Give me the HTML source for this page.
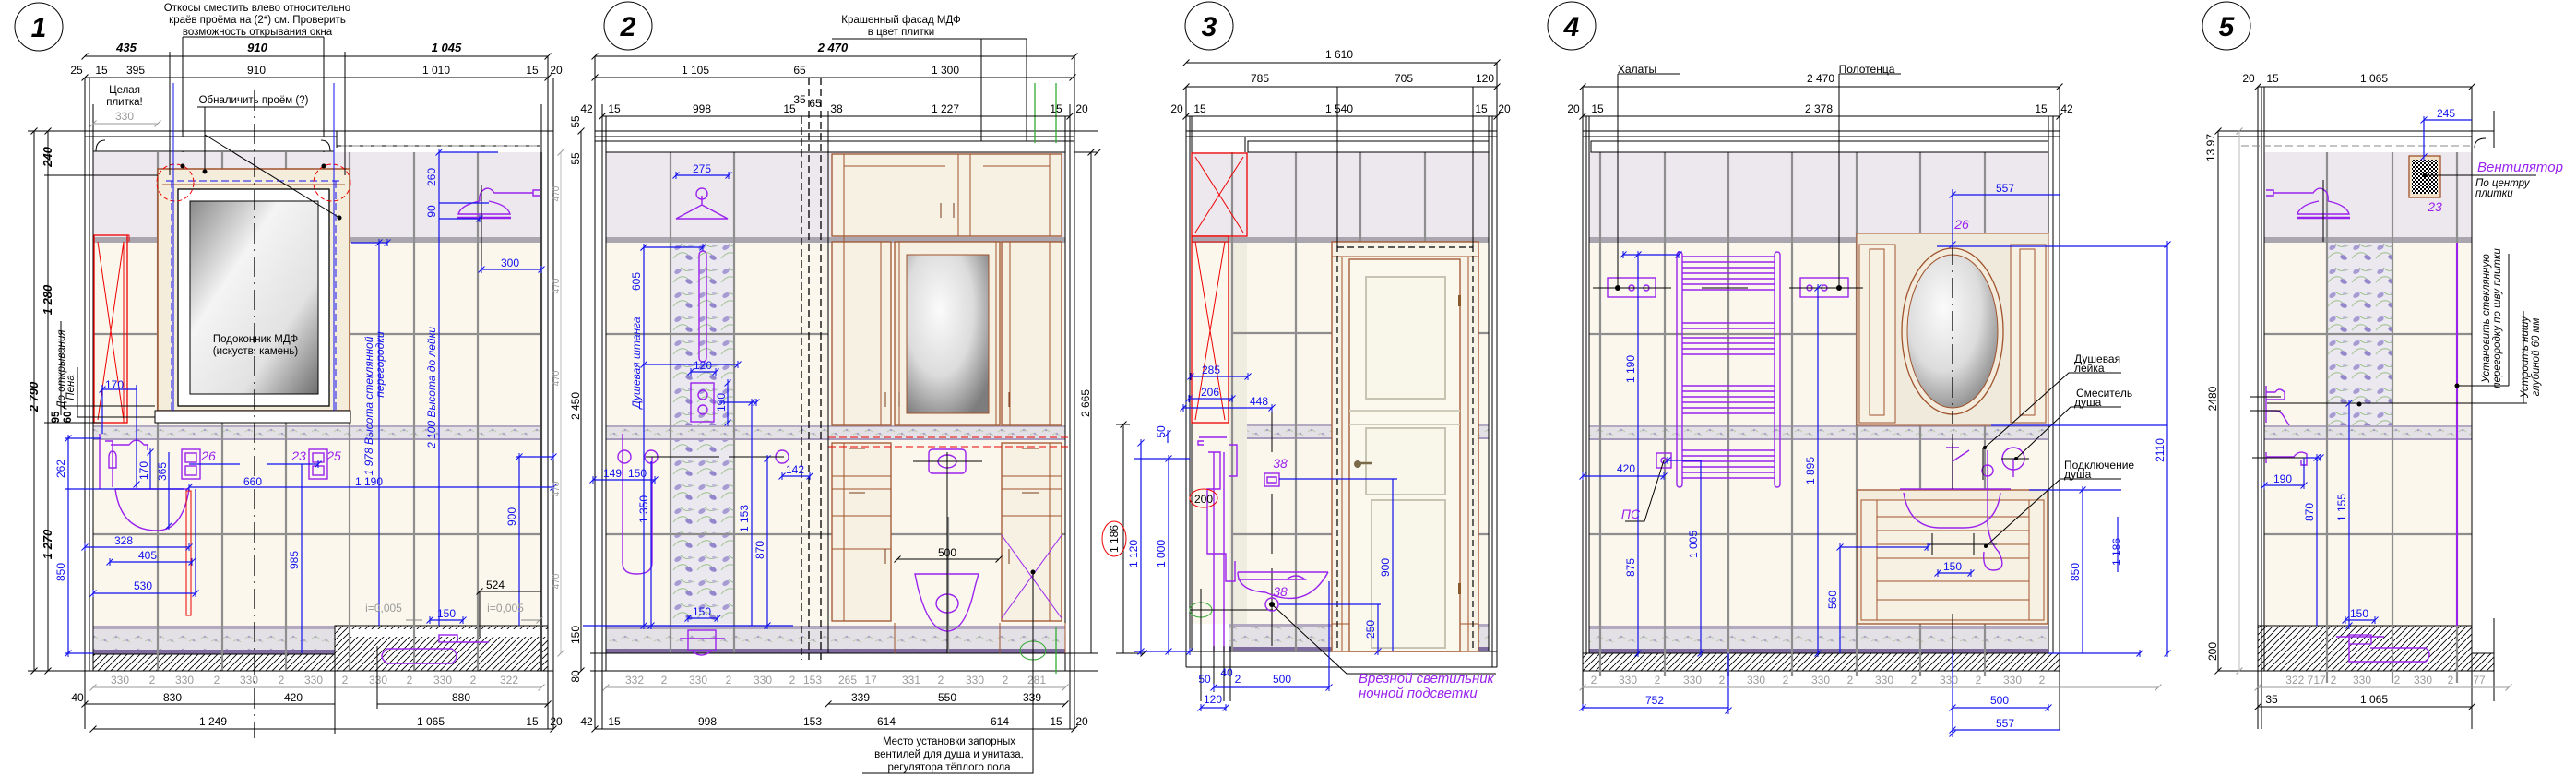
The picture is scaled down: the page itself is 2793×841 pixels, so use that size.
<!DOCTYPE html>
<html><head><meta charset="utf-8"><style>
html,body{margin:0;padding:0;background:#fff}
svg{display:block}
text{font-family:"Liberation Sans","DejaVu Sans",sans-serif}
.d{font-size:12px;fill:#000;text-anchor:middle}
.bi{font-size:13px;font-weight:bold;font-style:italic;text-anchor:middle}
.g{font-size:12px;fill:#9a9a9a;text-anchor:middle}
.b{font-size:12px;fill:#1010ee;text-anchor:middle}
.p{font-size:14px;fill:#9a22ee;font-style:italic}
.n{font-size:11.5px;fill:#000;text-anchor:middle}
.ln{stroke:#000;stroke-width:1;fill:none}
.gl{stroke:#8e8e8e;stroke-width:2.2;fill:none}
.bl{stroke:#1010ee;stroke-width:1.2;fill:none}
.pl{stroke:#9a22ee;stroke-width:1.4;fill:none}
.br{stroke:#a0522d;stroke-width:1.3}
</style></head><body>
<svg width="2793" height="841" viewBox="0 0 2793 841" xmlns="http://www.w3.org/2000/svg">
<defs>
<marker id="tk" markerWidth="10" markerHeight="10" refX="0" refY="0" viewBox="-5 -5 10 10" markerUnits="userSpaceOnUse"><path d="M-3.5,3.5 L3.5,-3.5" stroke="#000" stroke-width="1"/></marker>
<marker id="tb" markerWidth="10" markerHeight="10" refX="0" refY="0" viewBox="-5 -5 10 10" markerUnits="userSpaceOnUse"><path d="M-3.5,3.5 L3.5,-3.5 M0,-4 L0,4" stroke="#1010ee" stroke-width="1"/></marker>
<marker id="tg" markerWidth="10" markerHeight="10" refX="0" refY="0" viewBox="-5 -5 10 10" markerUnits="userSpaceOnUse"><path d="M-3.5,3.5 L3.5,-3.5" stroke="#999" stroke-width="1"/></marker>
<pattern id="hat" width="7" height="7" patternUnits="userSpaceOnUse"><rect width="7" height="7" fill="#fff"/><path d="M-1,8 L8,-1" stroke="#000" stroke-width="0.9"/></pattern>
<pattern id="spk" width="24" height="14" patternUnits="userSpaceOnUse"><rect width="24" height="14" fill="#e4e1e6"/><path d="M2,6 q4,-4 8,0 M13,9 q4,-3 8,1" stroke="#b8c8a8" stroke-width="1" fill="none"/><circle cx="6" cy="4" r="1.3" fill="#b0a6cc"/><circle cx="18" cy="8" r="1.3" fill="#b0a6cc"/></pattern>
<pattern id="flo" width="26" height="26" patternUnits="userSpaceOnUse"><rect width="26" height="26" fill="#ebe8ef"/><path d="M2,20 q8,-10 16,-4 M10,4 q6,6 14,2" stroke="#9cc08c" stroke-width="0.9" fill="none"/><ellipse cx="7" cy="8" rx="4" ry="2.5" fill="#a79bd4" transform="rotate(-30 7 8)"/><ellipse cx="19" cy="19" rx="4" ry="2.5" fill="#9388cc" transform="rotate(25 19 19)"/><ellipse cx="20" cy="6" rx="2" ry="1.3" fill="#c0b6e0"/></pattern>
<pattern id="chk" width="4" height="4" patternUnits="userSpaceOnUse"><rect width="4" height="4" fill="#fff"/><rect width="2" height="2" fill="#000"/><rect x="2" y="2" width="2" height="2" fill="#000"/></pattern>
<radialGradient id="gls" cx="0.4" cy="0.35" r="0.75"><stop offset="0" stop-color="#fbfbfb"/><stop offset="0.55" stop-color="#dcdcdc"/><stop offset="1" stop-color="#7d7d7d"/></radialGradient>
<linearGradient id="gls2" x1="0" y1="0" x2="1" y2="1"><stop offset="0" stop-color="#8a8a8a"/><stop offset="0.35" stop-color="#f4f4f4"/><stop offset="0.7" stop-color="#e2e2e2"/><stop offset="1" stop-color="#6e6e6e"/></linearGradient>
</defs>
<rect width="2793" height="841" fill="#fff"/>

<!-- ================= ELEVATION 1 ================= -->
<ellipse cx="42" cy="29" rx="26" ry="26" fill="none" stroke="#000"/>
<text x="42" y="40" style="font-size:30px;font-weight:bold;font-style:italic" text-anchor="middle">1</text>
<text x="279" y="12" class="n">Откосы сместить влево относительно</text>
<text x="279" y="25" class="n">краёв проёма на (2*) см. Проверить</text>
<text x="279" y="38" class="n">возможность открывания окна</text>
<path class="ln" d="M198,40 H351 M198,40 V180 M351,40 V180"/>
<!-- wall fills -->
<rect x="101" y="165" width="486" height="92" fill="#ede7ee"/>
<rect x="101" y="257" width="486" height="6" fill="#aaa6b0"/>
<rect x="101" y="263" width="486" height="198" fill="#fbf7ec"/>
<rect x="101" y="461" width="486" height="16" fill="url(#spk)"/>
<rect x="101" y="461" width="486" height="2" fill="#b3a9c0"/><rect x="101" y="475" width="486" height="2" fill="#a89cbc"/>
<rect x="101" y="477" width="486" height="201" fill="#fbf7ec"/>
<rect x="101" y="678" width="262" height="31" fill="url(#spk)"/>
<rect x="101" y="678" width="262" height="4" fill="#b3a9c0"/><rect x="101" y="704" width="262" height="5" fill="#7e6c9e"/>
<rect x="101" y="709" width="262" height="18" fill="url(#hat)" stroke="#000"/>
<rect x="363" y="678" width="231" height="49" fill="url(#hat)" stroke="#000"/>
<rect x="380" y="682" width="214" height="8" fill="#fff"/>
<path class="gl" d="M101,362 H587 M101,579 H587 M171,165 V727 M241,165 V727 M310,165 V727 M379,165 V727 M449,165 V727 M518,165 V727 M587,165 V727"/>
<!-- wall outlines -->
<path class="ln" d="M92,84 V790 M97,84 V727 M101,113 V727 M587,113 V727 M594,61 V790 M600,84 V790 M92,142 H600 M92,148 H365 M365,142 V160 M365,158 H587"/>
<path d="M101,148 H362 V164 H101Z" fill="#fff" stroke="#000"/>
<path class="ln" d="M104,164 q0,-12 10,-12 M358,164 q0,-12 -10,-12"/>
<path d="M370,158 H587" stroke="#888" stroke-dasharray="8 4"/>
<path class="ln" d="M88,727 H600"/>
<!-- window -->
<rect x="171" y="183" width="208" height="262" fill="#f4eddc" stroke="#a0522d" stroke-width="1.5"/>
<path d="M176,200 H374" stroke="#a0522d"/>
<path d="M180,196 H370" stroke="#1010ee" stroke-dasharray="8 4"/>
<path d="M186,196 V445 M364,196 V445" stroke="#1010ee" stroke-dasharray="8 4"/>
<rect x="193" y="205" width="164" height="235" fill="#fff" stroke="#000" stroke-width="1.3"/>
<rect x="206" y="218" width="139" height="209" fill="url(#gls2)" stroke="#000"/>
<rect x="168" y="445" width="212" height="13" fill="#fff" stroke="#000"/>
<circle cx="190" cy="198" r="20" fill="none" stroke="#e00" stroke-dasharray="5 3"/>
<circle cx="360" cy="198" r="20" fill="none" stroke="#e00" stroke-dasharray="5 3"/>
<path d="M276,98 V800" stroke="#000" stroke-width="1.3" stroke-dasharray="22 6 2 6"/>
<text x="277" y="371" class="n">Подоконник МДФ</text>
<text x="277" y="384" class="n">(искуств. камень)</text>
<text x="275" y="112" class="n">Обналичить проём (?)</text>
<path class="ln" d="M214,116 H330 M222,116 V186 M222,146 L368,236"/>
<circle cx="198" cy="180" r="2.5"/><circle cx="351" cy="180" r="2.5"/><circle cx="222" cy="186" r="2.5"/><circle cx="368" cy="236" r="2.5"/>
<text x="135" y="101" class="n">Целая</text><text x="135" y="114" class="n">плитка!</text>
<text x="135" y="130" class="g">330</text><path d="M101,134 H171" stroke="#999" marker-start="url(#tg)" marker-end="url(#tg)"/>
<!-- red cabinet -->
<rect x="102" y="255" width="36" height="203" fill="none" stroke="#e00" stroke-width="1.3"/>
<path d="M102,255 H140 V262 M106,262 L134,455 M134,262 L106,455 M134,262 V458" stroke="#e00" fill="none"/>
<!-- sink -->
<path class="pl" d="M108,470 V530 M114,478 h8 v50 M118,495 c0,-8 8,-8 8,0 v12 h-8z M120,482 h20 q8,-10 16,0 h4 v6 M125,530 H205 M125,530 q6,45 45,45 q28,0 35,-45"/>
<rect x="202" y="532" width="5" height="135" fill="none" stroke="#e00"/>
<rect x="197" y="487" width="20" height="32" class="pl" fill="#fff"/><rect x="201" y="491" width="12" height="10" class="pl"/><rect x="201" y="505" width="12" height="10" class="pl"/>
<rect x="335" y="487" width="20" height="32" class="pl" fill="#fff"/><rect x="339" y="491" width="12" height="10" class="pl"/><rect x="339" y="505" width="12" height="10" class="pl"/>
<text x="226" y="499" class="p" text-anchor="middle">26</text>
<text x="324" y="499" class="p" text-anchor="middle">23</text>
<text x="362" y="499" class="p" text-anchor="middle">25</text>
<!-- shower head -->
<path class="pl" d="M586,212 h-8 v-6 h8 M578,209 H536 q-6,-8 -12,-3 q-5,3 -4,12 M520,218 q-20,4 -23,14 H553 q-3,-10 -23,-14"/>
<path d="M496,236 H554" stroke="#9a22ee" stroke-width="2.5"/>
<path class="ln" d="M522,200 V295"/>
<!-- blue dims elev1 -->
<path class="bl" d="M111,422 H148 M111,417 V470 M148,417 V525" marker-start="url(#tb)" marker-end="url(#tb)"/>
<text x="124" y="421" class="b">170</text>
<path class="bl" d="M74,475 V708" marker-start="url(#tb)" marker-mid="url(#tb)" marker-end="url(#tb)"/>
<path class="bl" d="M70,475 H110 M70,530 H200 M70,708 H101"/>
<text transform="translate(70,508) rotate(-90)" class="b">262</text>
<text transform="translate(70,620) rotate(-90)" class="b">850</text>
<path class="bl" d="M163,490 V530 M183,490 V570" marker-start="url(#tb)" marker-end="url(#tb)"/>
<text transform="translate(160,510) rotate(-90)" class="b">170</text>
<text transform="translate(180,511) rotate(-90)" class="b">365</text>
<path class="bl" d="M92,593 H205" marker-start="url(#tb)" marker-end="url(#tb)"/><text x="134" y="590" class="b">328</text>
<path class="bl" d="M119,609 H208" marker-start="url(#tb)" marker-end="url(#tb)"/><text x="160" y="606" class="b">405</text>
<path class="bl" d="M101,643 H212 M212,530 V643" marker-start="url(#tb)" marker-end="url(#tb)"/><text x="155" y="639" class="b">530</text>
<path class="bl" d="M205,528 H600" marker-start="url(#tb)" marker-mid="url(#tb)" marker-end="url(#tb)"/>
<text x="274" y="526" class="b">660</text><text x="400" y="526" class="b">1 190</text>
<path class="bl" d="M327,503 V708 M205,503 H260 M290,503 H345" marker-end="url(#tb)"/>
<text transform="translate(323,607) rotate(-90)" class="b">985</text>
<path class="bl" d="M411,263 V678 M381,263 H420" marker-start="url(#tb)" marker-end="url(#tb)"/>
<text transform="translate(404,440) rotate(-90)" class="b" style="font-style:italic">1 978   Высота стеклянной</text>
<text transform="translate(416,395) rotate(-90)" class="b" style="font-style:italic">перегородки</text>
<path class="bl" d="M476,165 V678 M476,165 H540 M476,220 H530 M476,237 H520" marker-start="url(#tb)" marker-end="url(#tb)"/>
<text transform="translate(472,420) rotate(-90)" class="b" style="font-style:italic">2 100   Высота до лейки</text>
<text transform="translate(472,192) rotate(-90)" class="b">260</text>
<text transform="translate(472,229) rotate(-90)" class="b">90</text>
<path class="bl" d="M522,292 H587" marker-start="url(#tb)" marker-end="url(#tb)"/><text x="553" y="289" class="b">300</text>
<path class="bl" d="M563,495 V678 M560,495 H600" marker-start="url(#tb)" marker-end="url(#tb)"/>
<text transform="translate(559,560) rotate(-90)" class="b">900</text>
<path class="ln" d="M520,641 H587 M520,641 V690" marker-start="url(#tk)"/><text x="537" y="638" class="d">524</text>
<path class="bl" d="M466,672 H502" marker-start="url(#tb)" marker-end="url(#tb)"/><text x="484" y="669" class="b">150</text>
<rect x="476" y="688" width="20" height="8" class="pl"/>
<path class="pl" d="M420,703 q-12,8 0,16 H490 q10,-8 0,-16Z M496,696 H530"/>
<text x="416" y="663" class="g" text-anchor="start">i=0,005</text><text x="548" y="663" class="g" text-anchor="start">i=0,005</text>
<path d="M440,672 H458 M565,672 H585" stroke="#888" marker-end="url(#tg)"/>
<!-- left black dims -->
<path class="ln" d="M37,142 V727" marker-start="url(#tk)" marker-end="url(#tk)"/>
<path class="ln" d="M52,142 V727" marker-start="url(#tk)" marker-mid="url(#tk)" marker-end="url(#tk)"/>
<path class="ln" d="M30,142 H101 M30,727 H101 M48,190 H171 M48,458 H110"/>
<text transform="translate(41,430) rotate(-90)" class="bi">2 790</text>
<text transform="translate(56,170) rotate(-90)" class="bi">240</text>
<text transform="translate(56,325) rotate(-90)" class="bi">1 280</text>
<text transform="translate(56,590) rotate(-90)" class="bi">1 270</text>
<text transform="translate(70,400) rotate(-90)" class="n" style="font-style:italic">До открывания</text>
<text transform="translate(80,420) rotate(-90)" class="n" style="font-style:italic">Пена</text>
<text transform="translate(64,452) rotate(-90)" class="n" style="font-weight:bold">95</text>
<text transform="translate(77,452) rotate(-90)" class="n" style="font-weight:bold">60</text>
<path class="ln" d="M66,348 V450 M84,398 V452 M66,440 H168 M84,452 H168"/>
<!-- top dims -->
<path class="ln" d="M92,61 H594" marker-start="url(#tk)" marker-mid="url(#tk)" marker-end="url(#tk)"/>
<path class="ln" d="M92,61 H184 M184,61 H374 M374,61 H594"/>
<text x="137" y="56" class="bi">435</text><text x="279" y="56" class="bi">910</text><text x="484" y="56" class="bi">1 045</text>
<path class="ln" d="M92,84 H97 M97,84 H102 M102,84 H184 M184,84 H374 M374,84 H587 M587,84 H594" marker-start="url(#tk)" marker-end="url(#tk)"/>
<path class="ln" d="M184,56 V190 M374,56 V190"/>
<text x="83" y="80" class="d">25</text><text x="110" y="80" class="d">15</text><text x="147" y="80" class="d">395</text><text x="278" y="80" class="d">910</text><text x="473" y="80" class="d">1 010</text><text x="577" y="80" class="d">15</text><text x="603" y="80" class="d">20</text>
<path d="M188,90 V445 M362,90 V445" stroke="#1010ee"/>
<!-- bottom dims -->
<path d="M101,745 H171 M171,745 H241 M241,745 H310 M310,745 H379 M379,745 H449 M449,745 H518 M518,745 H587" stroke="#999" marker-start="url(#tg)" marker-end="url(#tg)"/>
<g class="g"><text x="130" y="741">330</text><text x="165" y="741">2</text><text x="200" y="741">330</text><text x="235" y="741">2</text><text x="270" y="741">330</text><text x="305" y="741">2</text><text x="340" y="741">330</text><text x="374" y="741">2</text><text x="410" y="741">330</text><text x="444" y="741">2</text><text x="480" y="741">330</text><text x="513" y="741">2</text><text x="552" y="741">322</text></g>
<path class="ln" d="M92,763 H101 M101,763 H276 M276,763 H363 M409,763 H594" marker-start="url(#tk)" marker-end="url(#tk)"/>
<path class="ln" d="M409,700 V768"/>
<text x="84" y="760" class="d">40</text><text x="187" y="760" class="d">830</text><text x="318" y="760" class="d">420</text><text x="500" y="760" class="d">880</text>
<path class="ln" d="M101,790 H363 M363,790 H587 M587,790 H594 M594,790 H600" marker-start="url(#tk)" marker-end="url(#tk)"/>
<path class="ln" d="M363,727 V795"/>
<text x="231" y="786" class="d">1 249</text><text x="467" y="786" class="d">1 065</text><text x="577" y="786" class="d">15</text><text x="603" y="786" class="d">20</text>

<!-- ================= ELEVATION 2 ================= -->
<ellipse cx="681" cy="28" rx="26" ry="26" fill="none" stroke="#000"/>
<text x="681" y="39" style="font-size:30px;font-weight:bold;font-style:italic" text-anchor="middle">2</text>
<text x="977" y="25" class="n">Крашенный фасад МДФ</text><text x="977" y="38" class="n">в цвет плитки</text>
<path class="ln" d="M902,42 H1113 M1064,42 V200 M1113,42 V300"/>
<circle cx="1064" cy="200" r="2.5"/><circle cx="1113" cy="300" r="2.5"/>
<rect x="657" y="165" width="498" height="92" fill="#ede7ee"/>
<rect x="657" y="257" width="498" height="6" fill="#aaa6b0"/>
<rect x="657" y="263" width="498" height="415" fill="#fbf7ec"/>
<rect x="727" y="263" width="69" height="413" fill="url(#flo)"/>
<rect x="657" y="461" width="498" height="16" fill="url(#spk)"/>
<rect x="657" y="461" width="498" height="2" fill="#b3a9c0"/><rect x="657" y="475" width="498" height="2" fill="#a89cbc"/>
<rect x="657" y="678" width="498" height="30" fill="url(#spk)"/>
<rect x="657" y="678" width="498" height="4" fill="#b3a9c0"/><rect x="657" y="703" width="498" height="5" fill="#7e6c9e"/>
<path class="gl" d="M657,362 H898 M657,579 H1155 M727,165 V708 M796,165 V708 M1028,560 V708"/>
<path class="ln" d="M645,61 V790 M653,113 V790 M657,126 V727 M1155,126 V727 M1160,113 V790 M1165,61 V790 M645,142 H1190 M645,148 H1165 M645,153 H1165 M640,708 H1190 M640,727 H1190"/>
<path d="M657,153 H1155 V165 H657Z" fill="#fff" stroke="#000"/>
<path d="M869,126 V715 M877,84 V715 M890,84 V715" stroke="#000" stroke-width="1.3" stroke-dasharray="8 4"/>
<!-- cabinet -->
<g fill="#f6f1e2" stroke="#a0522d" stroke-width="1.3">
<rect x="902" y="167" width="249" height="89"/>
<rect x="902" y="262" width="64" height="199"/><rect x="970" y="262" width="114" height="199"/><rect x="1086" y="262" width="65" height="199"/>
<rect x="902" y="480" width="64" height="193"/><rect x="1086" y="480" width="65" height="193"/>
</g>
<g fill="none" stroke="#a0522d">
<path d="M915,167 V256 M1138,167 V256 M915,180 H1025 M1039,167 V256 M1052,167 V256 M1066,180 H1138 M915,256 V461 M955,262 V461 M1138,262 V461 M1095,262 V461 M975,262 V461 M1080,262 V461 M915,480 V673 M1138,480 V673 M902,516 H966 M902,530 H966 M902,559 H966 M1086,516 H1151 M1086,530 H1151 M1086,559 H1151 M902,595 H966 M898,675 V708 M1155,675 V708 M970,675 V708 M1084,675 V708"/>
</g>
<rect x="983" y="276" width="89" height="172" fill="url(#gls)" stroke="#a0522d"/>
<g fill="none" stroke="#7a3a1a"><path d="M1020,220 v16 M1034,220 v16 M960,425 v16 M975,425 v16 M1094,425 v16 M960,595 v16 M1094,595 v16 M920,486 h18 M1108,486 h18 M920,534 h18 M1108,534 h18"/></g>
<path d="M898,474 H1160 M898,484 H1160" stroke="#e00" stroke-dasharray="8 4"/>
<path d="M1086,580 L1151,670 M1151,580 L1086,670" stroke="#9a22ee"/>
<rect x="1007" y="487" width="40" height="26" rx="4" class="pl"/><ellipse cx="1027" cy="500" rx="10" ry="7" class="pl"/>
<path class="pl" d="M992,622 H1061 l-4,14 q-10,48 -30,48 q-20,0 -32,-48Z"/><ellipse cx="1027" cy="654" rx="12" ry="10" class="pl"/>
<path class="ln" d="M990,500 H1065 M1027,490 V708"/>
<!-- shower stuff -->
<path class="pl" d="M733,237 L761,222 L789,237 Z M761,222 v-10"/><circle cx="761" cy="210" r="6" class="pl"/>
<rect x="758" y="272" width="8" height="120" rx="4" class="pl"/>
<rect x="749" y="415" width="25" height="42" class="pl"/>
<circle cx="762" cy="428" r="5" class="pl"/><circle cx="762" cy="444" r="5" class="pl"/>
<path class="pl" d="M675,470 v140 q0,12 15,12 q17,0 17,-12 V495"/>
<circle cx="677" cy="495" r="7" class="pl"/><circle cx="706" cy="495" r="7" class="pl"/><circle cx="848" cy="495" r="7" class="pl"/>
<rect x="746" y="683" width="30" height="22" class="pl"/><path class="pl" d="M737,692 H786 M750,705 q10,10 22,0"/>
<path class="ln" d="M700,495 H780 M790,495 H850"/>
<path class="bl" d="M733,190 H790" marker-start="url(#tb)" marker-end="url(#tb)"/><text x="761" y="187" class="b">275</text>
<path class="bl" d="M698,268 V678 M698,268 H762 M698,395 H800" marker-start="url(#tb)" marker-mid="url(#tb)" marker-end="url(#tb)"/>
<text transform="translate(694,305) rotate(-90)" class="b">605</text>
<text transform="translate(694,393) rotate(-90)" class="b" style="font-style:italic">Душевая штанга</text>
<path class="bl" d="M749,403 H776" marker-start="url(#tb)" marker-end="url(#tb)"/><text x="762" y="400" class="b">120</text>
<path class="bl" d="M789,415 V458" marker-start="url(#tb)" marker-end="url(#tb)"/><text transform="translate(786,436) rotate(-90)" class="b">190</text>
<path class="bl" d="M643,520 H675 M675,520 H710" marker-start="url(#tb)" marker-end="url(#tb)"/><text x="664" y="517" class="b">149</text><text x="691" y="517" class="b">150</text>
<path class="bl" d="M706,500 V678" marker-end="url(#tb)"/><text transform="translate(702,552) rotate(-90)" class="b">1 350</text>
<path class="bl" d="M815,436 V678 M780,436 H820" marker-start="url(#tb)" marker-end="url(#tb)"/><text transform="translate(811,562) rotate(-90)" class="b">1 153</text>
<path class="bl" d="M832,497 V678" marker-start="url(#tb)" marker-end="url(#tb)"/><text transform="translate(828,596) rotate(-90)" class="b">870</text>
<path class="bl" d="M848,516 H878" marker-start="url(#tb)" marker-end="url(#tb)"/><text x="862" y="513" class="b">142</text>
<path class="bl" d="M746,670 H778" marker-start="url(#tb)" marker-end="url(#tb)"/><text x="761" y="667" class="b">150</text>
<path class="bl" d="M632,678 H860" />
<path class="ln" d="M973,606 H1083" marker-start="url(#tk)" marker-end="url(#tk)"/><text x="1027" y="603" class="d">500</text>
<path class="ln" d="M1183,165 V708 M1165,165 H1190" marker-start="url(#tk)" marker-end="url(#tk)"/>
<text transform="translate(1181,437) rotate(-90)" class="d">2 665</text>
<path class="ln" d="M1218,460 V708 M1210,460 H1225 M1210,708 H1240" marker-start="url(#tk)" marker-end="url(#tk)"/>
<ellipse cx="1208" cy="584" rx="13" ry="19" fill="none" stroke="#e00"/><text transform="translate(1212,584) rotate(-90)" class="d">1 186</text>
<ellipse cx="1120" cy="705" rx="14" ry="10" fill="none" stroke="#3a3"/><path d="M1145,680 V730" stroke="#3a3" stroke-width="1.3"/>
<path d="M1122,90 V155 M1145,90 V155" stroke="#3a3" stroke-width="1.3"/>
<!-- left side dims elev2 -->
<path d="M608,165 V708" stroke="#bbb" marker-start="url(#tg)" marker-end="url(#tg)"/>
<g class="g" style="font-size:10px"><text transform="translate(606,210) rotate(-90)">470</text><text transform="translate(606,310) rotate(-90)">470</text><text transform="translate(606,410) rotate(-90)">470</text><text transform="translate(606,530) rotate(-90)">470</text><text transform="translate(606,630) rotate(-90)">470</text></g>
<path class="ln" d="M630,142 V727" marker-start="url(#tk)" marker-end="url(#tk)"/>
<text transform="translate(628,440) rotate(-90)" class="d">2 450</text>
<text transform="translate(628,132) rotate(-90)" class="d">55</text><text transform="translate(628,172) rotate(-90)" class="d">55</text>
<text transform="translate(628,688) rotate(-90)" class="d">150</text><text transform="translate(628,733) rotate(-90)" class="d">80</text>
<!-- top dims elev2 -->
<path class="ln" d="M645,61 H1165" marker-start="url(#tk)" marker-end="url(#tk)"/><text x="903" y="56" class="bi">2 470</text>
<path class="ln" d="M645,84 H877 M877,84 H890 M890,84 H1163" marker-start="url(#tk)" marker-end="url(#tk)"/>
<text x="754" y="80" class="d">1 105</text><text x="867" y="80" class="d">65</text><text x="1025" y="80" class="d">1 300</text>
<path class="ln" d="M653,126 H657 M657,126 H869 M869,126 H877 M877,126 H890 M890,126 H898 M898,126 H1151 M1151,126 H1155 M1155,126 H1160" marker-start="url(#tk)" marker-end="url(#tk)"/>
<path class="ln" d="M898,120 V708"/>
<g class="d"><text x="636" y="122">42</text><text x="666" y="122">15</text><text x="761" y="122">998</text><text x="856" y="122">15</text><text x="867" y="112">35</text><text x="884" y="116">65</text><text x="907" y="122">38</text><text x="1025" y="122">1 227</text><text x="1145" y="122">15</text><text x="1173" y="122">20</text></g>
<path d="M657,745 H1155" stroke="#999" marker-start="url(#tg)" marker-end="url(#tg)"/>
<g class="g"><text x="688" y="741">332</text><text x="720" y="741">2</text><text x="757" y="741">330</text><text x="790" y="741">2</text><text x="827" y="741">330</text><text x="859" y="741">2</text><text x="881" y="741">153</text><text x="919" y="741">265</text><text x="944" y="741">17</text><text x="988" y="741">331</text><text x="1020" y="741">2</text><text x="1057" y="741">330</text><text x="1090" y="741">2</text><text x="1124" y="741">281</text></g>
<path class="ln" d="M898,763 H970 M970,763 H1086 M1086,763 H1155" marker-start="url(#tk)" marker-end="url(#tk)"/>
<text x="933" y="760" class="d">339</text><text x="1027" y="760" class="d">550</text><text x="1119" y="760" class="d">339</text>
<path class="ln" d="M645,790 H653 M653,790 H657 M657,790 H869 M869,790 H898 M898,790 H1027 M1027,790 H1155 M1155,790 H1160 M1160,790 H1165" marker-start="url(#tk)" marker-end="url(#tk)"/>
<g class="d"><text x="636" y="786">42</text><text x="666" y="786">15</text><text x="767" y="786">998</text><text x="881" y="786">153</text><text x="961" y="786">614</text><text x="1084" y="786">614</text><text x="1145" y="786">15</text><text x="1173" y="786">20</text></g>
<text x="1029" y="807" class="n">Место установки запорных</text><text x="1029" y="821" class="n">вентилей для душа и унитаза,</text><text x="1029" y="835" class="n">регулятора тёплого пола</text>
<path class="ln" d="M935,838 H1120 V620"/><circle cx="1120" cy="620" r="2.5"/>

<!-- ================= ELEVATION 3 ================= -->
<ellipse cx="1311" cy="28" rx="26" ry="26" fill="none" stroke="#000"/>
<text x="1311" y="39" style="font-size:30px;font-weight:bold;font-style:italic" text-anchor="middle">3</text>
<rect x="1292" y="165" width="322" height="92" fill="#ede7ee"/>
<rect x="1292" y="257" width="322" height="6" fill="#aaa6b0"/>
<rect x="1292" y="263" width="322" height="413" fill="#fbf7ec"/>
<rect x="1332" y="263" width="20" height="413" fill="#efece0"/>
<rect x="1352" y="460" width="262" height="16" fill="url(#spk)"/><rect x="1352" y="460" width="262" height="2" fill="#b3a9c0"/><rect x="1352" y="474" width="262" height="2" fill="#a89cbc"/>
<rect x="1332" y="676" width="282" height="30" fill="url(#spk)"/><rect x="1332" y="676" width="282" height="4" fill="#b3a9c0"/><rect x="1332" y="701" width="282" height="5" fill="#7e6c9e"/>
<path class="gl" d="M1336,165 V706 M1405,165 V706 M1475,165 V706 M1545,165 V706 M1336,361 H1614 M1336,579 H1614"/>
<path class="ln" d="M1286,94 V723 M1290,126 V706 M1292,126 V706 M1614,126 V706 M1618,126 V723 M1623,68 V723 M1286,142 H1623 M1286,148 H1623 M1286,723 H1623 M1232,706 H1623 M1350,148 V165"/>
<path d="M1353,153 H1614 V165 H1353Z" fill="#fff" stroke="#000"/>
<rect x="1292" y="166" width="60" height="90" fill="none" stroke="#e00" stroke-width="1.3"/>
<path d="M1296,170 L1348,252 M1348,170 L1296,252 M1292,256 H1352 M1292,262 H1332" stroke="#e00" fill="none"/>
<rect x="1292" y="256" width="40" height="202" fill="none" stroke="#e00" stroke-width="1.3"/>
<path d="M1296,262 L1328,455 M1328,262 L1296,455" stroke="#e00"/>
<!-- door -->
<rect x="1444" y="262" width="159" height="444" fill="#f7f3e6" stroke="#a0522d" stroke-width="1.3"/>
<path d="M1444,278 H1603 M1455,278 V706 M1592,278 V706 M1444,676 H1603" stroke="#a0522d" fill="none"/>
<path d="M1450,266 V706 M1597,266 V706 M1450,268 H1597" stroke="#000" stroke-width="1.2" stroke-dasharray="7 4"/>
<rect x="1463" y="281" width="120" height="425" fill="#fbf8ee" stroke="#a0522d" stroke-width="1.3"/>
<rect x="1481" y="300" width="86" height="132" fill="#f9f6ea" stroke="#c8c4b4" stroke-width="2"/>
<rect x="1481" y="464" width="86" height="72" fill="#f9f6ea" stroke="#c8c4b4" stroke-width="2"/>
<rect x="1487" y="542" width="80" height="160" fill="#f9f6ea" stroke="#c8c4b4" stroke-width="2"/>
<path d="M1463,445 H1583 M1463,460 H1583" stroke="#d0ccbc" stroke-width="2"/>
<rect x="1581" y="320" width="3" height="12" fill="#8a5a2a"/><rect x="1581" y="632" width="3" height="12" fill="#8a5a2a"/>
<circle cx="1472" cy="503" r="4" fill="#7a6a4a"/><path d="M1472,502 H1488" stroke="#7a6a4a" stroke-width="2.5"/>
<!-- left pipes -->
<path class="pl" d="M1300,474 H1330 M1305,482 h-6 v-4 h6 M1310,490 h13 v40 h-14 v70 h20 v30 h10 v-22 M1333,482 h8 v34 h-8"/>
<path class="pl" d="M1316,490 V706 M1327,490 V706"/>
<ellipse cx="1305" cy="540" rx="15" ry="10" fill="none" stroke="#e00"/><text x="1305" y="545" class="d">200</text>
<ellipse cx="1302" cy="661" rx="12" ry="8" fill="none" stroke="#3a3"/>
<path class="ln" d="M1290,661 H1380 M1302,638 V760 M1316,700 V750 M1327,700 V760 M1334,700 V760"/>
<rect x="1371" y="513" width="16" height="14" class="pl"/><path class="pl" d="M1374,517 h10 v6 h-10z"/>
<path class="ln" d="M1379,445 V490 M1379,535 V600 M1379,616 V700"/>
<path class="pl" d="M1342,620 H1440 M1342,628 H1415 q-10,-8 -20,0 M1342,620 q0,20 30,22 q45,20 68,-22"/>
<circle cx="1379" cy="655" r="7" class="pl"/><circle cx="1379" cy="655" r="3" fill="#000"/>
<path class="ln" d="M1379,655 L1460,730 H1622"/>
<text x="1388" y="507" class="p" text-anchor="middle">38</text><text x="1388" y="646" class="p" text-anchor="middle">38</text>
<path class="bl" d="M1291,408 H1353" marker-start="url(#tb)" marker-end="url(#tb)"/><text x="1313" y="405" class="b">285</text>
<path class="bl" d="M1289,432 H1336" marker-start="url(#tb)" marker-end="url(#tb)"/><text x="1312" y="429" class="b">206</text>
<path class="bl" d="M1283,442 H1379" marker-start="url(#tb)" marker-end="url(#tb)"/><text x="1365" y="439" class="b">448</text>
<path class="bl" d="M1387,519 H1515 M1510,519 V706 M1387,655 H1497 M1494,655 V706" marker-end="url(#tb)"/>
<text transform="translate(1506,615) rotate(-90)" class="b">900</text><text transform="translate(1490,682) rotate(-90)" class="b">250</text>
<path class="bl" d="M1266,470 V480 M1230,497 H1290 M1230,706 H1290" marker-start="url(#tb)" marker-end="url(#tb)"/>
<path class="bl" d="M1267,497 V706" marker-start="url(#tb)" marker-end="url(#tb)"/>
<text transform="translate(1263,468) rotate(-90)" class="b">50</text>
<text transform="translate(1263,600) rotate(-90)" class="b">1 000</text>
<path class="bl" d="M1237,480 V706" marker-start="url(#tb)" marker-end="url(#tb)"/><text transform="translate(1233,600) rotate(-90)" class="b">1 120</text>
<path class="bl" d="M1316,745 H1334 M1334,745 H1336 M1336,745 H1441" marker-start="url(#tb)" marker-end="url(#tb)"/>
<text x="1306" y="740" class="b">50</text><text x="1330" y="733" class="b">40</text><text x="1342" y="740" class="b">2</text><text x="1390" y="740" class="b">500</text>
<path class="bl" d="M1302,767 H1329" marker-start="url(#tb)" marker-end="url(#tb)"/><text x="1315" y="762" class="b">120</text>
<path class="bl" d="M1441,630 V745"/>
<text x="1473" y="740" class="p" style="font-size:15px">Врезной светильник</text>
<text x="1473" y="756" class="p" style="font-size:15px">ночной подсветки</text>
<!-- top dims elev3 -->
<path class="ln" d="M1286,68 H1623" marker-start="url(#tk)" marker-end="url(#tk)"/><text x="1452" y="63" class="d">1 610</text>
<path class="ln" d="M1286,94 H1450 M1450,94 H1597 M1597,94 H1623" marker-start="url(#tk)" marker-end="url(#tk)"/>
<text x="1366" y="89" class="d">785</text><text x="1522" y="89" class="d">705</text><text x="1610" y="89" class="d">120</text>
<path class="ln" d="M1450,94 V268 M1597,94 V268"/>
<path class="ln" d="M1286,126 H1290 M1290,126 H1292 M1292,126 H1614 M1614,126 H1618 M1618,126 H1623" marker-start="url(#tk)" marker-end="url(#tk)"/>
<text x="1276" y="122" class="d">20</text><text x="1301" y="122" class="d">15</text><text x="1452" y="122" class="d">1 540</text><text x="1606" y="122" class="d">15</text><text x="1631" y="122" class="d">20</text>

<!-- ================= ELEVATION 4 ================= -->
<ellipse cx="1704" cy="28" rx="26" ry="26" fill="none" stroke="#000"/>
<text x="1704" y="39" style="font-size:30px;font-weight:bold;font-style:italic" text-anchor="middle">4</text>
<rect x="1723" y="165" width="498" height="92" fill="#ede7ee"/>
<rect x="1723" y="257" width="498" height="6" fill="#aaa6b0"/>
<rect x="1723" y="263" width="498" height="415" fill="#fbf7ec"/>
<rect x="1723" y="461" width="498" height="16" fill="url(#spk)"/><rect x="1723" y="461" width="498" height="2" fill="#b3a9c0"/><rect x="1723" y="475" width="498" height="2" fill="#a89cbc"/>
<rect x="1723" y="678" width="498" height="30" fill="url(#spk)"/><rect x="1723" y="678" width="498" height="4" fill="#b3a9c0"/><rect x="1723" y="703" width="498" height="5" fill="#7e6c9e"/>
<rect x="1716" y="708" width="517" height="19" fill="url(#hat)" stroke="#000"/>
<path class="gl" d="M1723,362 H2221 M1723,579 H2221 M1735,165 V733 M1805,165 V733 M1874,165 V733 M1943,165 V733 M2013,165 V733 M2082,165 V733 M2152,165 V733"/>
<path class="ln" d="M1716,94 V767 M1720,126 V708 M1723,126 V708 M2221,126 V708 M2226,126 V708 M2233,94 V791 M1716,142 H2233 M1716,148 H2233"/>
<path d="M1725,153 H2221 V165 H1725Z" fill="#fff" stroke="#000"/>
<!-- mirror cabinet -->
<rect x="2013" y="253" width="208" height="208" fill="#efeadb" stroke="#a0522d"/>
<rect x="2016" y="265" width="39" height="193" fill="#f6f1e2" stroke="#a0522d"/><rect x="2027" y="270" width="16" height="180" fill="none" stroke="#a0522d"/>
<rect x="2180" y="265" width="38" height="193" fill="#f6f1e2" stroke="#a0522d"/><rect x="2190" y="270" width="16" height="180" fill="none" stroke="#a0522d"/>
<ellipse cx="2117" cy="359" rx="55" ry="90" fill="#f3ecdc" stroke="#a0522d" stroke-width="1.3"/>
<ellipse cx="2117" cy="359" rx="49" ry="83" fill="url(#gls)" stroke="#a0522d"/>
<path d="M2117,265 V460" stroke="#000" stroke-width="1.3" stroke-dasharray="22 6 2 6"/>
<!-- radiator -->
<rect x="1818" y="273" width="6" height="255" rx="3" class="pl"/><rect x="1924" y="273" width="6" height="255" rx="3" class="pl"/>
<path class="pl" d="M1824,278 H1924 M1824,284 H1924 M1824,290 H1924 M1824,296 H1924 M1824,302 H1924 M1824,308 H1924 M1824,314 H1924 M1824,350 H1924 M1824,356 H1924 M1824,366 H1924 M1824,372 H1924 M1824,378 H1924 M1824,384 H1924 M1824,418 H1924 M1824,424 H1924 M1824,430 H1924 M1824,436 H1924 M1824,442 H1924 M1824,448 H1924 M1824,488 H1924 M1824,494 H1924 M1824,500 H1924 M1824,506 H1924 M1824,512 H1924 M1824,518 H1924"/>
<rect x="1743" y="301" width="52" height="21" class="pl"/><circle cx="1754" cy="312" r="3" fill="#000"/><circle cx="1769" cy="312" r="3" class="pl"/><circle cx="1785" cy="312" r="3" class="pl"/>
<rect x="1952" y="301" width="52" height="21" class="pl"/><circle cx="1962" cy="312" r="3" class="pl"/><circle cx="1978" cy="312" r="3" class="pl"/><circle cx="1994" cy="312" r="3" fill="#000"/>
<path class="ln" d="M1727,312 H1812 M1845,312 H1895 M1940,312 H2020"/>
<text x="1775" y="79" class="n" style="font-size:12px">Халаты</text><path class="ln" d="M1754,80 H1822 M1754,80 V312"/>
<text x="2024" y="79" class="n" style="font-size:12px">Полотенца</text><path class="ln" d="M1994,80 H2061 M1994,80 V312"/>
<rect x="1796" y="491" width="16" height="16" class="pl"/><circle cx="1804" cy="499" r="3" class="pl"/>
<path class="ln" d="M1804,499 L1783,565 H1762"/>
<text x="1768" y="562" class="p" text-anchor="middle">ПС</text>
<!-- vanity -->
<rect x="2014" y="531" width="206" height="145" fill="#f3ecdc" stroke="#a0522d" stroke-width="1.3"/>
<rect x="2018" y="542" width="198" height="130" fill="#f6f1e2" stroke="#a0522d"/>
<path d="M2035,542 V672 M2200,542 V672 M2035,560 H2200 M2035,575 H2200 M2035,590 H2200 M2035,605 H2200 M2035,630 H2200 M2035,650 H2200" stroke="#a0522d" fill="none"/>
<path class="pl" d="M2060,530 H2180 M2064,534 q6,38 40,38 h25 q35,0 40,-38"/>
<path class="pl" d="M2117,480 v50 M2110,485 h14 M2117,500 l18,-12 M2155,488 v80 q2,20 12,30 q10,20 -6,20 q-12,0 -10,-20"/>
<circle cx="2155" cy="510" r="6" class="pl"/><circle cx="2183" cy="497" r="12" class="pl"/><path class="pl" d="M2183,497 v20"/>
<path class="ln" d="M2117,470 V530 M2117,665 V727 M2090,590 H2165 M2095,578 V602 M2140,578 V602 M2150,485 V520 M2170,497 H2200"/>
<circle cx="2152" cy="485" r="2"/><circle cx="2186" cy="497" r="2"/><circle cx="2153" cy="592" r="2"/>
<path class="ln" d="M2152,485 L2243,404 H2300 M2186,497 L2245,441 H2300 M2153,592 L2234,519 H2300"/>
<g class="n" style="text-anchor:start;font-size:12px"><text x="2249" y="393">Душевая</text><text x="2249" y="403">лейка</text><text x="2251" y="430">Смеситель</text><text x="2249" y="440">душа</text><text x="2238" y="508">Подключение</text><text x="2238" y="518">душа</text></g>
<!-- blue dims elev4 -->
<path class="bl" d="M2117,211 H2233 M2117,205 V265" marker-start="url(#tb)" marker-end="url(#tb)"/><text x="2174" y="208" class="b">557</text>
<text x="2127" y="248" class="p" text-anchor="middle">26</text>
<path class="bl" d="M2100,267 H2350 M2159,461 H2350"/>
<path class="bl" d="M1776,276 V708 M1760,276 H1820" marker-start="url(#tb)" marker-mid="url(#tb)" marker-end="url(#tb)"/>
<text transform="translate(1772,400) rotate(-90)" class="b">1 190</text><text transform="translate(1772,615) rotate(-90)" class="b">875</text>
<path class="bl" d="M1716,516 H1804" marker-start="url(#tb)" marker-end="url(#tb)"/><text x="1763" y="512" class="b">420</text>
<path class="bl" d="M1808,499 H1845 M1844,499 V708" marker-start="url(#tb)" marker-end="url(#tb)"/><text transform="translate(1840,590) rotate(-90)" class="b">1 005</text>
<path class="bl" d="M1971,312 V708" marker-start="url(#tb)" marker-end="url(#tb)"/><text transform="translate(1967,510) rotate(-90)" class="b">1 895</text>
<path class="bl" d="M1995,593 V708 M1995,593 H2090" marker-start="url(#tb)" marker-end="url(#tb)"/><text transform="translate(1991,650) rotate(-90)" class="b">560</text>
<path class="bl" d="M2101,621 H2137" marker-start="url(#tb)" marker-end="url(#tb)"/><text x="2117" y="618" class="b">150</text>
<path class="bl" d="M2258,531 V708 M2200,531 H2300 M2220,708 H2320" marker-start="url(#tb)" marker-end="url(#tb)"/><text transform="translate(2254,620) rotate(-90)" class="b">850</text>
<path class="bl" d="M2350,265 V708" marker-start="url(#tb)" marker-end="url(#tb)"/><text transform="translate(2346,488) rotate(-90)" class="b">2110</text>
<path class="bl" d="M2296,560 V620" /><text transform="translate(2299,598) rotate(-90)" class="b">1 186</text>
<path class="bl" d="M1716,767 H1874 M1874,708 V770" marker-start="url(#tb)" marker-end="url(#tb)"/><text x="1794" y="763" class="b">752</text>
<path class="bl" d="M2117,767 H2221" marker-start="url(#tb)" marker-end="url(#tb)"/><text x="2168" y="763" class="b">500</text>
<path class="bl" d="M2117,791 H2233 M2117,708 V795" marker-start="url(#tb)" marker-end="url(#tb)"/><text x="2174" y="788" class="b">557</text>
<path d="M1716,745 H2340" stroke="#999" marker-start="url(#tg)" marker-end="url(#tg)"/>
<g class="g"><text x="1728" y="741">2</text><text x="1765" y="741">330</text><text x="1797" y="741">2</text><text x="1835" y="741">330</text><text x="1867" y="741">2</text><text x="1904" y="741">330</text><text x="1936" y="741">2</text><text x="1974" y="741">330</text><text x="2006" y="741">2</text><text x="2043" y="741">330</text><text x="2075" y="741">2</text><text x="2113" y="741">330</text><text x="2145" y="741">2</text><text x="2182" y="741">330</text><text x="2214" y="741">2</text></g>
<path class="ln" d="M1716,94 H2233" marker-start="url(#tk)" marker-end="url(#tk)"/><text x="1974" y="89" class="d">2 470</text>
<path class="ln" d="M1716,126 H1720 M1720,126 H1723 M1723,126 H2221 M2221,126 H2226 M2226,126 H2233" marker-start="url(#tk)" marker-end="url(#tk)"/>
<text x="1706" y="122" class="d">20</text><text x="1732" y="122" class="d">15</text><text x="1972" y="122" class="d">2 378</text><text x="2213" y="122" class="d">15</text><text x="2241" y="122" class="d">42</text>

<!-- ================= ELEVATION 5 ================= -->
<ellipse cx="2414" cy="28" rx="26" ry="26" fill="none" stroke="#000"/>
<text x="2414" y="39" style="font-size:30px;font-weight:bold;font-style:italic" text-anchor="middle">5</text>
<rect x="2455" y="165" width="225" height="92" fill="#ede7ee"/>
<rect x="2455" y="257" width="225" height="6" fill="#aaa6b0"/>
<rect x="2455" y="263" width="225" height="415" fill="#fbf7ec"/>
<rect x="2523" y="263" width="71" height="198" fill="url(#flo)"/>
<rect x="2455" y="461" width="225" height="16" fill="url(#spk)"/><rect x="2455" y="461" width="225" height="2" fill="#b3a9c0"/><rect x="2455" y="475" width="225" height="2" fill="#a89cbc"/>
<rect x="2448" y="678" width="232" height="49" fill="url(#hat)" stroke="#000"/>
<rect x="2680" y="708" width="24" height="19" fill="url(#hat)" stroke="#000"/>
<path class="gl" d="M2455,362 H2680 M2455,579 H2680 M2523,165 V740 M2594,165 V740 M2664,165 V740"/>
<path class="ln" d="M2448,94 V790 M2452,94 V790 M2455,94 V727 M2680,94 V790 M2405,142 H2704 M2405,148 H2680 M2680,142 V160 M2704,120 V160 M2704,670 V760 M2405,727 H2448"/>
<path class="ln" d="M2683,160 q0,-10 12,-10"/>
<path d="M2430,158 H2680" stroke="#888" stroke-dasharray="8 4"/>
<path d="M2664,263 V678" stroke="#9a22ee" stroke-width="2"/>
<rect x="2612" y="169" width="34" height="45" fill="#f0e0c8" stroke="#a0522d" stroke-width="1.3"/>
<rect x="2615" y="173" width="28" height="37" fill="url(#chk)"/>
<path class="ln" d="M2629,190 H2750"/><circle cx="2629" cy="190" r="2.5"/>
<text x="2686" y="186" class="p" style="font-size:15px">Вентилятор</text>
<text x="2684" y="202" class="n" style="font-style:italic;text-anchor:start">По центру</text>
<text x="2684" y="213" class="n" style="font-style:italic;text-anchor:start">плитки</text>
<text x="2640" y="229" class="p" text-anchor="middle">23</text>
<path class="bl" d="M2628,130 H2680 M2628,130 V170" marker-start="url(#tb)" marker-end="url(#tb)"/><text x="2652" y="127" class="b">245</text>
<path class="pl" d="M2457,212 h8 v-6 h-8 M2465,209 H2508 q6,-8 12,-3 q5,3 4,12 M2524,218 q20,4 23,14 H2491 q3,-10 23,-14"/>
<path d="M2490,236 H2548" stroke="#9a22ee" stroke-width="2.5"/>
<path class="ln" d="M2519,195 V262"/>
<path class="pl" d="M2457,418 v40 M2457,425 h10 q4,-6 10,0 v8 h-20 M2457,445 h10 q6,0 10,8 l5,8"/>
<path class="pl" d="M2457,490 v12 M2457,495 h30 q6,-8 14,-3 v12 h-6 v-6"/>
<path class="ln" d="M2440,430 H2473 M2440,445 H2473 M2442,496 H2515"/>
<circle cx="2558" cy="438" r="2.5"/>
<path class="ln" d="M2458,437 H2740 M2736,337 V437 M2560,437 L2558,438 M2664,418 H2720 M2720,275 V418"/><circle cx="2664" cy="418" r="2.5"/>
<text transform="translate(2699,345) rotate(-90)" class="n" style="font-style:italic">Установить стеклянную</text>
<text transform="translate(2711,345) rotate(-90)" class="n" style="font-style:italic">перегородку по шву плитки</text>
<text transform="translate(2741,387) rotate(-90)" class="n" style="font-style:italic">Устроить нишу</text>
<text transform="translate(2753,387) rotate(-90)" class="n" style="font-style:italic">глубиной 60 мм</text>
<path class="bl" d="M2455,526 H2498 M2498,496 V526" marker-start="url(#tb)" marker-end="url(#tb)"/><text x="2475" y="523" class="b">190</text>
<path class="bl" d="M2512,496 V678 M2500,496 H2516" marker-start="url(#tb)" marker-end="url(#tb)"/><text transform="translate(2508,555) rotate(-90)" class="b">870</text>
<path class="bl" d="M2547,437 V678" marker-start="url(#tb)" marker-end="url(#tb)"/><text transform="translate(2543,550) rotate(-90)" class="b">1 155</text>
<path class="bl" d="M2543,672 H2575" marker-start="url(#tb)" marker-end="url(#tb)"/><text x="2558" y="669" class="b">150</text>
<rect x="2547" y="688" width="24" height="10" class="pl"/>
<path class="pl" d="M2533,690 H2585 M2547,698 V717 H2630 q8,-8 0,-15 H2570"/>
<path d="M2428,142 V727" stroke="#bbb" marker-start="url(#tg)" marker-end="url(#tg)"/>
<path class="ln" d="M2405,142 V727" marker-start="url(#tk)" marker-end="url(#tk)"/>
<text transform="translate(2401,160) rotate(-90)" class="d">13 97</text>
<text transform="translate(2403,432) rotate(-90)" class="d">2480</text>
<text transform="translate(2403,706) rotate(-90)" class="d">200</text>
<path class="ln" d="M2448,94 H2680" marker-start="url(#tk)" marker-end="url(#tk)"/>
<text x="2438" y="89" class="d">20</text><text x="2464" y="89" class="d">15</text><text x="2574" y="89" class="d">1 065</text>
<path d="M2448,745 H2720" stroke="#999" marker-start="url(#tg)" marker-end="url(#tg)"/>
<g class="g"><text x="2500" y="741">322 717</text><text x="2530" y="741">2</text><text x="2561" y="741">330</text><text x="2599" y="741">2</text><text x="2627" y="741">330</text><text x="2657" y="741">2</text><text x="2688" y="741">77</text></g>
<path class="ln" d="M2448,766 H2455 M2455,766 H2680" marker-start="url(#tk)" marker-end="url(#tk)"/>
<text x="2463" y="762" class="d">35</text><text x="2574" y="762" class="d">1 065</text>
</svg>
</body></html>
